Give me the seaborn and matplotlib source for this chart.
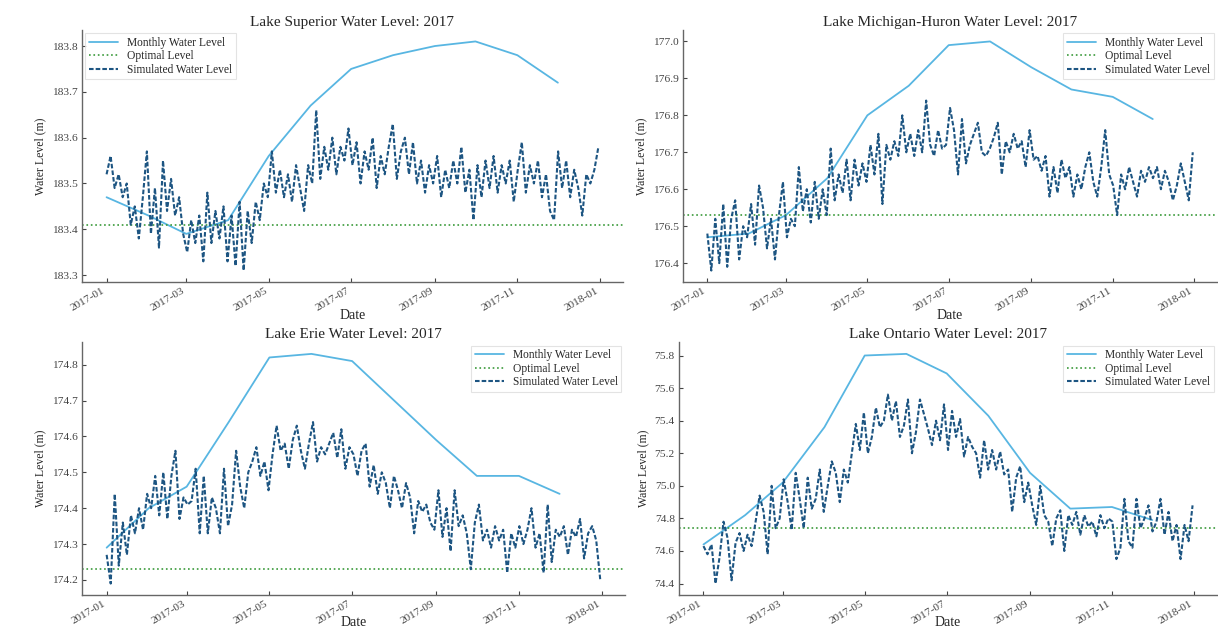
"""
Great Lakes water level 2017 - monthly vs simulated
"""

import numpy as np
import pandas as pd
import matplotlib
matplotlib.use('Agg')
import matplotlib.pyplot as plt
import matplotlib.dates as mdates
from matplotlib.ticker import MultipleLocator
import seaborn as sns

# monthly observed levels (first day of each month)
month_dates = pd.date_range('2017-01-01', periods=12, freq='MS')
superior_monthly = [183.47, 183.43, 183.39, 183.42, 183.56, 183.67, 183.75, 183.78, 183.80, 183.81, 183.78, 183.72]
michigan_monthly = [176.47, 176.48, 176.53, 176.63, 176.80, 176.88, 176.99, 177.00, 176.93, 176.87, 176.85, 176.79]
erie_monthly = [174.29, 174.40, 174.46, 174.64, 174.82, 174.83, 174.81, 174.70, 174.59, 174.49, 174.49, 174.44]
ontario_monthly = [74.64, 74.82, 75.02, 75.36, 75.80, 75.81, 75.69, 75.43, 75.08, 74.86, 74.87, 74.79]

# optimal levels
optimal_levels = [183.41, 176.53, 174.23, 74.74]

# simulated levels, read off roughly every 3 days through the year
superior_sim = [
    183.52, 183.56, 183.49, 183.52, 183.47, 183.50, 183.41, 183.45, 183.38, 183.47,
    183.57, 183.39, 183.49, 183.36, 183.55, 183.44, 183.51, 183.43, 183.47, 183.39,
    183.35, 183.42, 183.37, 183.43, 183.33, 183.48, 183.37, 183.44, 183.38, 183.45,
    183.33, 183.43, 183.32, 183.46, 183.31, 183.44, 183.37, 183.46, 183.42, 183.50,
    183.47, 183.57, 183.48, 183.53, 183.47, 183.52, 183.46, 183.54, 183.49, 183.44,
    183.54, 183.50, 183.66, 183.51, 183.58, 183.53, 183.60, 183.52, 183.58, 183.55,
    183.62, 183.54, 183.59, 183.50, 183.57, 183.53, 183.60, 183.49, 183.56, 183.52,
    183.58, 183.63, 183.51, 183.57, 183.60, 183.52, 183.59, 183.50, 183.55, 183.48,
    183.54, 183.50, 183.56, 183.47, 183.53, 183.49, 183.55, 183.50, 183.58, 183.48,
    183.53, 183.42, 183.54, 183.47, 183.55, 183.49, 183.56, 183.48, 183.54, 183.50,
    183.55, 183.46, 183.53, 183.59, 183.48, 183.54, 183.50, 183.55, 183.47, 183.52,
    183.44, 183.42, 183.57, 183.49, 183.55, 183.47, 183.53, 183.49, 183.43, 183.52,
    183.50, 183.53, 183.58,
]
michigan_sim = [
    176.48, 176.38, 176.52, 176.40, 176.56, 176.39, 176.52, 176.57, 176.41, 176.50,
    176.47, 176.56, 176.45, 176.61, 176.55, 176.44, 176.52, 176.41, 176.53, 176.62,
    176.47, 176.52, 176.50, 176.66, 176.54, 176.60, 176.51, 176.62, 176.52, 176.60,
    176.53, 176.71, 176.57, 176.64, 176.59, 176.68, 176.57, 176.68, 176.61, 176.67,
    176.62, 176.72, 176.64, 176.75, 176.56, 176.72, 176.68, 176.73, 176.69, 176.80,
    176.70, 176.75, 176.69, 176.76, 176.70, 176.84, 176.72, 176.69, 176.76, 176.71,
    176.72, 176.82, 176.76, 176.64, 176.79, 176.67, 176.72, 176.75, 176.78, 176.70,
    176.69, 176.71, 176.74, 176.78, 176.64, 176.73, 176.70, 176.75, 176.71, 176.73,
    176.66, 176.76, 176.68, 176.69, 176.65, 176.69, 176.58, 176.66, 176.59, 176.68,
    176.63, 176.66, 176.58, 176.64, 176.60, 176.66, 176.70, 176.62, 176.58, 176.66,
    176.76, 176.64, 176.61, 176.53, 176.64, 176.60, 176.66, 176.62, 176.58, 176.65,
    176.62, 176.66, 176.63, 176.66, 176.60, 176.65, 176.62, 176.57, 176.61, 176.67,
    176.62, 176.57, 176.70,
]
erie_sim = [
    174.27, 174.19, 174.44, 174.24, 174.36, 174.27, 174.38, 174.33, 174.40, 174.34,
    174.44, 174.40, 174.49, 174.38, 174.50, 174.37, 174.49, 174.56, 174.37, 174.43,
    174.41, 174.42, 174.51, 174.33, 174.49, 174.33, 174.43, 174.40, 174.33, 174.51,
    174.35, 174.41, 174.56, 174.46, 174.40, 174.50, 174.53, 174.57, 174.49, 174.53,
    174.45, 174.55, 174.63, 174.56, 174.58, 174.51, 174.59, 174.63, 174.56, 174.51,
    174.58, 174.64, 174.53, 174.57, 174.55, 174.58, 174.61, 174.54, 174.62, 174.51,
    174.57, 174.55, 174.49, 174.56, 174.58, 174.46, 174.52, 174.44, 174.50, 174.47,
    174.40, 174.49, 174.45, 174.40, 174.47, 174.43, 174.33, 174.42, 174.39, 174.41,
    174.36, 174.34, 174.45, 174.32, 174.40, 174.28, 174.45, 174.35, 174.38, 174.33,
    174.23, 174.36, 174.41, 174.31, 174.34, 174.29, 174.35, 174.31, 174.34, 174.22,
    174.33, 174.29, 174.35, 174.30, 174.34, 174.40, 174.29, 174.33, 174.22, 174.41,
    174.25, 174.34, 174.32, 174.35, 174.27, 174.34, 174.32, 174.37, 174.26, 174.33,
    174.35, 174.31, 174.20,
]
ontario_sim = [
    74.63, 74.58, 74.64, 74.40, 74.56, 74.78, 74.68, 74.42, 74.65, 74.71,
    74.60, 74.70, 74.63, 74.78, 74.94, 74.84, 74.58, 75.00, 74.74, 74.80,
    75.04, 74.90, 74.73, 75.08, 74.92, 74.74, 75.05, 74.86, 74.92, 75.10,
    74.84, 75.00, 75.15, 75.08, 74.90, 75.10, 75.02, 75.20, 75.38, 75.22,
    75.45, 75.20, 75.30, 75.48, 75.36, 75.40, 75.56, 75.40, 75.52, 75.30,
    75.37, 75.53, 75.20, 75.33, 75.53, 75.44, 75.35, 75.25, 75.40, 75.28,
    75.50, 75.22, 75.46, 75.30, 75.41, 75.18, 75.30, 75.24, 75.20, 75.05,
    75.28, 75.10, 75.22, 75.10, 75.21, 75.07, 75.10, 74.84, 75.05, 75.12,
    74.90, 75.02, 74.88, 74.76, 75.00, 74.82, 74.78, 74.63, 74.80, 74.85,
    74.60, 74.82, 74.76, 74.84, 74.70, 74.82, 74.75, 74.78, 74.69, 74.82,
    74.74, 74.80, 74.78, 74.55, 74.62, 74.92, 74.66, 74.62, 74.92, 74.74,
    74.80, 74.88, 74.72, 74.78, 74.92, 74.70, 74.84, 74.66, 74.76, 74.55,
    74.76, 74.66, 74.88,
]

lake_names = ['Lake Superior', 'Lake Michigan-Huron', 'Lake Erie', 'Lake Ontario']
monthly_all = [superior_monthly, michigan_monthly, erie_monthly, ontario_monthly]
sim_all = [superior_sim, michigan_sim, erie_sim, ontario_sim]
y_steps = [0.1, 0.1, 0.1, 0.2]
legend_locs = ['upper left', 'upper right', 'upper right', 'upper right']

# axes boxes in figure fractions (left, bottom, width, height)
positions = [
    [0.0673, 0.5524, 0.4442, 0.400],
    [0.5608, 0.5524, 0.4384, 0.400],
    [0.0673, 0.0555, 0.4458, 0.401],
    [0.5575, 0.0555, 0.4417, 0.401],
]

sns.set_theme(style='ticks')
plt.rcParams['font.family'] = ['Liberation Serif', 'DejaVu Serif']

fig, axes = plt.subplots(2, 2, figsize=(12.18, 6.3), dpi=100)
axes = axes.ravel()

for i, ax in enumerate(axes):
    ax.set_position(positions[i])
    sim_dates = pd.date_range('2017-01-01', '2017-12-31', periods=len(sim_all[i]))

    sns.lineplot(x=month_dates, y=monthly_all[i], ax=ax, color='#58b6e2',
                 linewidth=1.3, label='Monthly Water Level')
    ax.axhline(optimal_levels[i], color='#3a9a3a', linestyle=':', linewidth=1.2,
               label='Optimal Level')
    sns.lineplot(x=sim_dates, y=sim_all[i], ax=ax, color='#1d5582',
                 linestyle=(0, (2.2, 1.0)), linewidth=1.5, label='Simulated Water Level')

    ax.set_title(f'{lake_names[i]} Water Level: 2017', fontsize=11, pad=3)
    ax.set_xlabel('Date', fontsize=10, labelpad=-3 if i < 2 else -7)
    ax.set_ylabel('Water Level (m)', fontsize=8.5)

    ax.xaxis.set_major_locator(mdates.MonthLocator(bymonth=[1, 3, 5, 7, 9, 11]))
    ax.xaxis.set_major_formatter(mdates.DateFormatter('%Y-%m'))
    ax.yaxis.set_major_locator(MultipleLocator(y_steps[i]))
    for lbl in ax.get_xticklabels():
        lbl.set_rotation(30)
        lbl.set_ha('right')

    ax.tick_params(direction='in', length=3, width=0.8, labelsize=8.2,
                   colors='#444444', pad=3)
    sns.despine(ax=ax)
    for side in ['left', 'bottom']:
        ax.spines[side].set_color('#666666')
        ax.spines[side].set_linewidth(1.0)

    leg = ax.legend(loc=legend_locs[i], fontsize=8.3, frameon=True,
                    fancybox=False, borderaxespad=0.3, borderpad=0.3,
                    labelspacing=0.12, handlelength=2.5)
    leg.get_frame().set_edgecolor('#dddddd')
    leg.get_frame().set_linewidth(0.8)

fig.savefig('out.png', dpi=100)
